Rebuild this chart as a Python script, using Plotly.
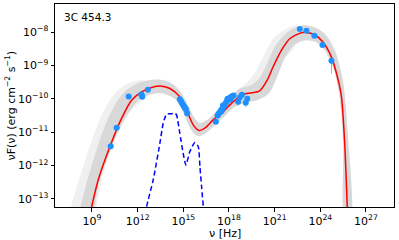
import numpy as np
import plotly.graph_objects as go

# ---- data (log10 values) ----
red_lognu = [8.75, 9.41, 10.18, 10.95, 11.6, 12.26, 12.92, 13.57, 14.12, 14.77, 15.21, 15.65,
             16.04, 16.41, 16.96, 17.61, 18.27, 18.93, 19.5, 20.02, 20.5, 20.9, 21.45, 21.99,
             22.64, 23.08, 23.63, 24.17, 24.73, 25.1, 25.38, 25.6, 25.77, 25.82]
red_lognf = [-13.7, -12.43, -11.43, -10.58, -10.04, -9.79, -9.66, -9.62, -9.69, -9.94, -10.34, -10.78,
             -10.95, -10.88, -10.63, -10.39, -10.09, -9.87, -9.82, -9.76, -9.45, -9.04, -8.54, -8.2,
             -8.04, -8.01, -8.08, -8.3, -8.75, -9.3, -9.9, -11.33, -13.23, -13.8]

blue_lognu = [12.45, 12.59, 13.02, 13.46, 13.68, 13.9, 14.2, 14.45, 14.56, 14.77, 14.99, 15.17,
              15.43, 15.76, 15.98, 16.09, 16.2, 16.31, 16.35]
blue_lognf = [-13.7, -13.23, -12.43, -11.33, -10.73, -10.46, -10.45, -10.43, -10.49, -11.03, -11.63, -11.98,
              -11.58, -11.31, -11.43, -12.03, -12.63, -13.23, -13.7]

band_up_lognu = [8.0, 8.6, 9.25, 9.95, 10.6, 11.3, 12.2, 13.3, 14.1, 14.7, 15.2, 15.7, 16.1, 16.6,
                 17.3, 18.0, 18.7, 19.5, 20.0, 20.5, 21.0, 21.6, 22.3, 23.0, 23.7, 24.4, 25.0,
                 25.5, 25.8, 26.0]
band_up_lognf = [-13.7, -12.6, -11.6, -10.7, -10.1, -9.72, -9.5, -9.42, -9.5, -9.72, -10.08, -10.55, -10.72, -10.62,
                 -10.32, -10.0, -9.7, -9.58, -9.38, -8.95, -8.45, -8.1, -7.88, -7.8, -7.87, -8.1, -8.6,
                 -9.5, -11.0, -13.7]
band_lo_lognu = [25.62, 25.5, 25.25, 24.9, 24.3, 23.7, 23.0, 22.3, 21.7, 21.2, 20.6, 19.8, 19.0, 18.3,
                 17.6, 17.0, 16.4, 15.95, 15.5, 15.0, 14.5, 13.6, 12.8, 12.0, 11.4, 10.7, 10.0, 9.4, 9.1]
band_lo_lognf = [-13.7, -11.3, -9.9, -9.15, -8.55, -8.3, -8.25, -8.38, -8.75, -9.3, -9.85, -10.05, -10.12, -10.27,
                 -10.57, -10.82, -11.05, -11.12, -10.92, -10.42, -10.02, -9.83, -9.88, -10.08, -10.42, -11.0, -11.8, -12.6, -13.7]

halo1_lognu = [7.3, 8.1, 8.95, 9.85, 10.8, 11.8, 12.5, 12.5, 11.4, 10.0, 9.1]
halo1_lognf = [-13.7, -12.5, -11.3, -10.3, -9.7, -9.47, -9.47, -9.9, -10.45, -11.85, -13.7]
halo2_lognu = [18.5, 19.5, 20.3, 21.0, 21.8, 22.5, 22.5, 21.2, 20.0, 18.5]
halo2_lognf = [-9.75, -9.35, -8.7, -8.15, -7.9, -7.82, -8.3, -9.0, -9.6, -9.9]

pts_lognu = [10.23, 10.62, 11.41, 12.24, 12.3, 12.28, 12.67,
             14.77, 14.85, 14.9, 14.97, 15.04, 15.1, 15.17, 15.25,
             17.14, 17.25, 17.32, 17.4, 17.46, 17.5, 17.52, 17.58, 17.6, 17.63, 17.7, 17.76, 17.82,
             17.88, 17.9, 17.95, 18.0, 18.08, 18.1, 18.15, 18.22, 18.3,
             18.6, 18.71, 18.85, 19.1, 19.2,
             22.65, 23.09, 23.61, 24.14, 24.73]
pts_lognf = [-11.42, -10.87, -9.93, -9.87, -9.94, -9.9, -9.73,
             -10.01, -10.07, -10.12, -10.17, -10.22, -10.27, -10.31, -10.43,
             -10.69, -10.5, -10.45, -10.4, -10.36, -10.38, -10.32, -10.28, -10.2, -10.24, -10.2, -10.15, -10.1,
             -10.06, -10.0, -10.03, -10.0, -9.96, -10.02, -9.94, -9.92, -9.9,
             -10.09, -9.96, -9.88, -10.12, -10.0,
             -7.91, -7.96, -8.11, -8.39, -8.86]
pts_lognf_low = [None] * 37 + [-10.2, None, None, -10.25, -10.18] + [None] * 4 + [-9.24]

xtick_exp = [9, 12, 15, 18, 21, 24, 27]
ytick_exp = [-8, -9, -10, -11, -12, -13]
x_range = [6.57, 28.84]
y_range = [-13.24, -7.16]


def lin(a):
    return [10.0 ** v for v in a]


fig = go.Figure()

# faint halos of model samples
for hx, hy in [(halo1_lognu, halo1_lognf), (halo2_lognu, halo2_lognf)]:
    fig.add_trace(go.Scatter(x=lin(hx), y=lin(hy), mode="lines", fill="toself",
                             fillcolor="rgb(240,240,240)", line=dict(width=0, shape="spline"),
                             hoverinfo="skip", showlegend=False))

# main grey band
fig.add_trace(go.Scatter(x=lin(band_up_lognu + band_lo_lognu), y=lin(band_up_lognf + band_lo_lognf),
                         mode="lines", fill="toself", fillcolor="rgb(216,216,216)",
                         line=dict(width=0, shape="spline", smoothing=0.8),
                         hoverinfo="skip", showlegend=False))

# red model
fig.add_trace(go.Scatter(x=lin(red_lognu), y=lin(red_lognf), mode="lines",
                         line=dict(color="red", width=1.5, shape="spline", smoothing=0.8),
                         showlegend=False))

# blue dashed component
fig.add_trace(go.Scatter(x=lin(blue_lognu), y=lin(blue_lognf), mode="lines",
                         line=dict(color="blue", width=1.5, dash="5px,3px", shape="spline", smoothing=0.6),
                         showlegend=False))

# data points
ys = lin(pts_lognf)
err_minus = [(y - 10.0 ** lo) if lo is not None else 0 for y, lo in zip(ys, pts_lognf_low)]
fig.add_trace(go.Scatter(x=lin(pts_lognu), y=ys, mode="markers",
                         marker=dict(color="#1e90ff", size=6, line=dict(width=0)),
                         error_y=dict(type="data", symmetric=False, array=[0] * len(ys),
                                      arrayminus=err_minus, color="rgba(30,144,255,0.6)", thickness=1, width=0),
                         showlegend=False))

font = "DejaVu Sans"
fig.update_xaxes(type="log", range=x_range, tickvals=lin(xtick_exp),
                 ticktext=[f"10<sup>{e}</sup>" for e in xtick_exp], automargin=False,
                 showline=True, linecolor="black", linewidth=1, mirror=True,
                 ticks="outside", ticklen=3.5, tickcolor="black", showgrid=False, zeroline=False,
                 tickfont=dict(family=font, size=11, color="black"))
fig.update_yaxes(type="log", range=y_range, tickvals=lin(ytick_exp),
                 ticktext=[f"10<sup>\u2212{-e}</sup>" for e in ytick_exp], automargin=False,
                 showline=True, linecolor="black", linewidth=1, mirror=True,
                 ticks="outside", ticklen=3.5, tickcolor="black", showgrid=False, zeroline=False,
                 tickfont=dict(family=font, size=11, color="black"))

fig.update_layout(
    width=399, height=240,
    margin=dict(l=55, r=5, t=4, b=33, autoexpand=False),
    plot_bgcolor="white", paper_bgcolor="white",
    font=dict(family=font, color="black"),
    annotations=[
        dict(text="3C 454.3", x=0.02, y=0.935, xref="paper", yref="paper",
             xanchor="left", yanchor="middle", showarrow=False, font=dict(size=10.5)),
        dict(text="\u03bd [Hz]", x=0.5, y=-0.133, xref="paper", yref="paper",
             xanchor="center", yanchor="middle", showarrow=False, font=dict(size=11)),
        dict(text="\u03bdF(\u03bd) (erg cm<sup>\u22122</sup> s<sup>\u22121</sup>)", x=-0.13, y=0.5,
             xref="paper", yref="paper", xanchor="center", yanchor="middle", textangle=-90,
             showarrow=False, font=dict(size=11)),
    ],
)

fig.write_html("out.html", config={"displayModeBar": False},
               post_script="document.body.style.margin='0';document.body.style.overflow='hidden';")
